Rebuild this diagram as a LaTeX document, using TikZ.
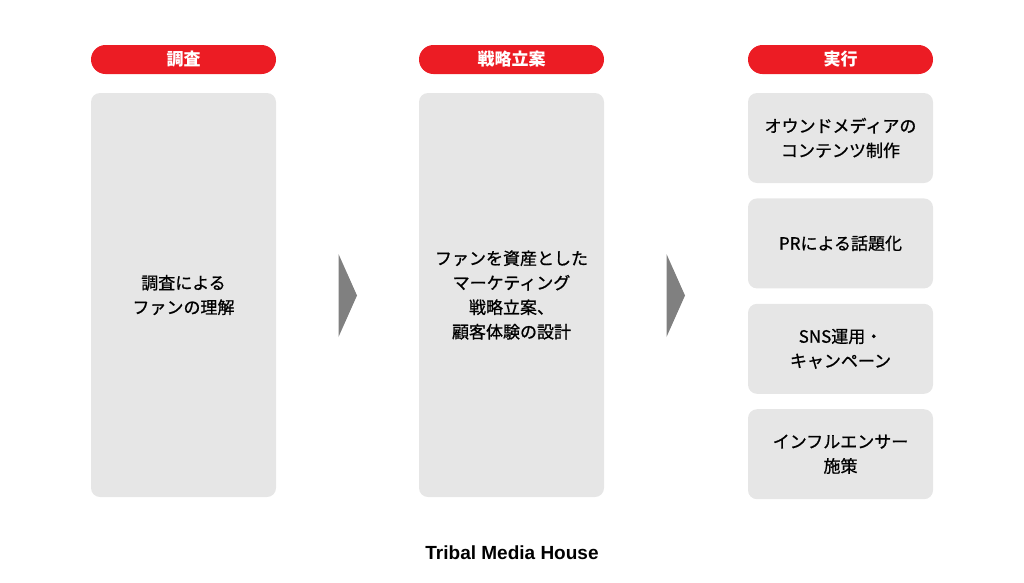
\documentclass[tikz,border=0pt]{standalone}
\usepackage{fontspec}
\setmainfont{Noto Sans CJK JP}
\newfontfamily\jpmed[FakeBold=0.9]{Noto Sans CJK JP}
\newfontfamily\logofont{Liberation Sans}
\usepackage{tikz}
\usetikzlibrary{positioning}
\usetikzlibrary{calc}
\definecolor{tmhred}{HTML}{EC1C24}
\definecolor{boxgray}{HTML}{E6E6E6}
\definecolor{arrowgray}{HTML}{808080}
\tikzset{head/.style={rectangle, rounded corners=14.5pt, fill=tmhred, text=white, minimum width=185pt, minimum height=29pt, inner sep=0pt, font=\bfseries\fontsize{17}{20}\selectfont}}
\tikzset{panel/.style={rectangle, rounded corners=9pt, fill=boxgray, minimum width=185pt, inner sep=0pt, align=center, font=\jpmed\fontsize{17}{24.5}\selectfont}}
\tikzset{tall/.style={panel, minimum height=404pt}}
\tikzset{short/.style={panel, minimum height=90pt}}

\begin{document}
\begin{tikzpicture}[x=1pt, y=1pt, node distance=15pt and 15pt]
\useasboundingbox (0,0) rectangle (1024,-582);
\node[head] (h1) at (183.5,-59.5) {調査};
\node[head] (h2) at (511.5,-59.5) {戦略立案};
\node[head] (h3) at (840.5,-59.5) {実行};

\node[tall] (survey) at (183.5,-295) {調査による\\ファンの理解};
\node[tall] (plan) at (511.5,-295) {ファンを資産とした\\マーケティング\\戦略立案、\\顧客体験の設計};

\node[short] (owned) at (840.5,-138) {オウンドメディアの\\コンテンツ制作};
\node[short,below=of owned] (pr) {PRによる話題化};
\node[short,below=of pr] (sns) {SNS運用・\\キャンペーン};
\node[short,below=of sns] (infl) {インフルエンサー\\施策};

% arrows between the columns
\fill[arrowgray] (338.5,-254) -- (357,-295.5) -- (338.5,-337) -- cycle;
\fill[arrowgray] (666.5,-254) -- (685,-295.5) -- (666.5,-337) -- cycle;

\node[font=\logofont\bfseries\fontsize{19}{22}\selectfont] (logo) at (512,-553) {Tribal Media House};
\end{tikzpicture}
\end{document}
